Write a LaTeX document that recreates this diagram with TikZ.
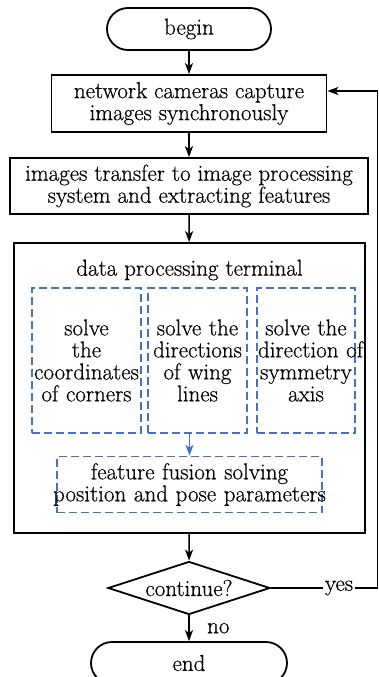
\documentclass[tikz,border=0pt]{standalone}
\usepackage{fontspec}
\setmainfont{Latin Modern Roman}[FakeBold=0.5]
\usetikzlibrary{arrows.meta,shapes.geometric}
\definecolor{partblue}{HTML}{4472C4}

\begin{document}
\begin{tikzpicture}[x=1pt, y=-1pt,
  >={Stealth[length=11pt, width=8pt, inset=3pt]},
  font=\fontsize{23}{22}\selectfont,
  terminal/.style={draw=black, line width=1.8pt, rounded corners=21pt,
                   minimum height=42pt, inner sep=0pt},
  process/.style={draw=black, line width=1.8pt, align=center, inner sep=0pt},
  decision/.style={draw=black, line width=1.8pt, diamond, aspect=3,
                   minimum width=162pt, minimum height=53pt, inner sep=0pt},
  part/.style={draw=partblue, line width=1.5pt, dash pattern=on 8pt off 4pt,
               align=center, inner sep=1pt},
  flow/.style={->, line width=1.6pt, draw=black},
  subflow/.style={->, line width=1.5pt, draw=partblue},
]
\useasboundingbox (0,0) rectangle (379,677);

% ============ MAIN COLUMN ============
\node[terminal, minimum width=164pt] (start) at (189,29) {begin};
\node[process, minimum width=275pt, minimum height=57pt] (capture) at (189,103.5)
  {network cameras capture\\images synchronously};
\node[process, minimum width=358pt, minimum height=56pt] (transfer) at (189,186)
  {images transfer to image processing\\system and extracting features};

% ============ DATA PROCESSING TERMINAL ============
\node[process, minimum width=351pt, minimum height=290pt] (dpt) at (189.5,388) {};
\node (dpttitle) at (189.5,270) {data processing terminal};

\node[part, text width=107pt, minimum height=145pt] (corners) at (86.5,360.5)
  {solve\\the\\\mbox{coordinates}\\\mbox{of corners}};
\node[part, text width=97pt, minimum height=145pt] (wings) at (197.5,360.5)
  {\mbox{solve the}\\\mbox{directions}\\\mbox{of wing}\\lines};
\node[part, text width=96pt, minimum height=145pt] (axis) at (306,360.5)
  {\mbox{solve the}\\\mbox{direction of}\\\mbox{symmetry}\\axis};
\node[part, text width=263pt, minimum height=56pt] (fusion) at (189.5,484.5)
  {\makebox[\linewidth]{feature fusion solving}\\
   \makebox[\linewidth]{position and pose parameters}};

% ============ DECISION AND END ============
\node[decision] (ask) at (189,588) {continue?};
\node[terminal, minimum width=196pt] (stop) at (189,663) {end};

% ============ CONNECTORS ============
\draw[flow] (start) -- (capture);
\draw[flow] (capture) -- (transfer);
\draw[flow] (transfer) -- (dpt);
\draw[subflow] (wings.south -| fusion.north) -- (fusion.north);
\draw[flow] (dpt) -- (ask);
\draw[flow] (ask) -- node[midway, right=14pt] (no) {no} (stop);

% loop back to the cameras
\coordinate (back) at (377.5,91);
\draw[flow] (ask.east) -- (ask.east -| back) -- (back) -- (back -| capture.east);
\node[fill=white, inner xsep=2pt, inner ysep=1pt] (yes) at (339,588) {yes};

\end{tikzpicture}
\end{document}
